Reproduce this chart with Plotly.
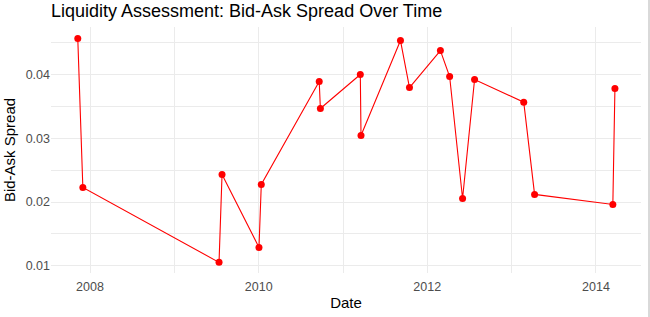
import plotly.graph_objects as go

dates = ["2007-11-09", "2007-12-01", "2009-07-13", "2009-07-26", "2010-01-02",
         "2010-01-12", "2010-09-20", "2010-09-25", "2011-03-17", "2011-03-20",
         "2011-09-07", "2011-10-16", "2012-02-27", "2012-04-07", "2012-06-02",
         "2012-07-24", "2013-02-22", "2013-04-10", "2014-03-15", "2014-03-24"]
spread = [0.04564, 0.02229, 0.01053, 0.02433, 0.01288,
          0.02276, 0.0389, 0.03467, 0.0400, 0.03044,
          0.04533, 0.03796, 0.04376, 0.03969, 0.02056,
          0.03922, 0.03566, 0.02119, 0.01962, 0.03781]
x_tickvals = ["2008-01-01", "2010-01-01", "2012-01-01", "2014-01-01"]
x_ticktext = ["2008", "2010", "2012", "2014"]
y_tickvals = [0.01, 0.02, 0.03, 0.04]
y_ticktext = ["0.01", "0.02", "0.03", "0.04"]

FONT = "Liberation Sans, Arial, sans-serif"
GRID = "#ebebeb"

fig = go.Figure()
fig.add_trace(go.Scatter(
    x=dates, y=spread, mode="lines+markers",
    line=dict(color="red", width=1.1),
    marker=dict(color="red", size=7),
    showlegend=False,
))

fig.update_layout(
    width=650, height=317,
    margin=dict(l=51, r=9, t=27, b=44),
    paper_bgcolor="white", plot_bgcolor="white",
    font=dict(family=FONT, color="#000000"),
    title=dict(text="Liquidity Assessment: Bid-Ask Spread Over Time",
               x=51/650, xanchor="left", y=1 - 11/317, yanchor="middle",
               font=dict(size=18, color="black", family=FONT)),
    xaxis=dict(
        type="date",
        range=["2007-07-16", "2014-07-15"],
        tickvals=x_tickvals, ticktext=x_ticktext,
        showgrid=True, gridcolor=GRID, gridwidth=1.2,
        minor=dict(dtick="M12", tick0="2008-01-01", showgrid=True, gridcolor=GRID, gridwidth=0.8),
        zeroline=False, showline=False, ticks="",
        ticklabelstandoff=4,
        tickfont=dict(size=12.5, color="#4d4d4d"),
        title=dict(text="Date", font=dict(size=15, color="black"), standoff=4),
    ),
    yaxis=dict(
        range=[0.00886, 0.04746],
        tickvals=y_tickvals, ticktext=y_ticktext,
        showgrid=True, gridcolor=GRID, gridwidth=1.2,
        minor=dict(dtick=0.005, tick0=0.0, showgrid=True, gridcolor=GRID, gridwidth=0.8),
        zeroline=False, showline=False, ticks="",
        tickfont=dict(size=12.5, color="#4d4d4d"),
        title=dict(text="Bid-Ask Spread", font=dict(size=15, color="black"), standoff=6),
    ),
    shapes=[dict(type="rect", xref="paper", yref="paper",
                 x0=1 + 7/590, x1=1 + 10/590, y0=-44/246, y1=1 + 27/246,
                 line=dict(width=0), fillcolor="#d9d9d9", layer="above")],
)

fig.write_html("out.html")
